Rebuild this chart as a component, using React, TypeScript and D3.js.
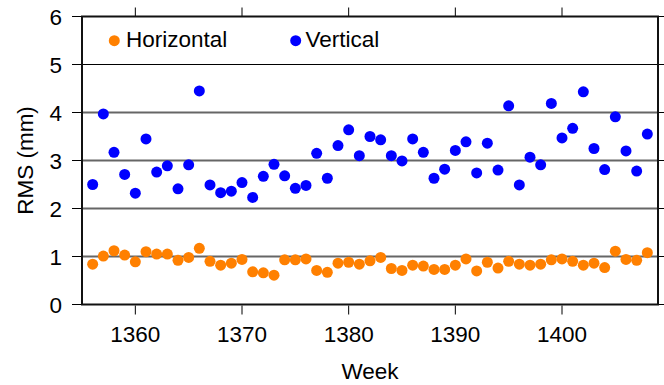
import * as d3 from "d3";

const weeks = d3.range(1356, 1409);

const horizontal = [
  0.84, 1.01, 1.12, 1.03, 0.89, 1.1, 1.05, 1.05, 0.92, 0.98,
  1.17, 0.9, 0.82, 0.86, 0.94, 0.68, 0.66, 0.61, 0.93, 0.93,
  0.95, 0.71, 0.67, 0.86, 0.88, 0.84, 0.91, 0.98, 0.75, 0.71,
  0.82, 0.8, 0.73, 0.73, 0.82, 0.95, 0.7, 0.88, 0.76, 0.9,
  0.84, 0.82, 0.84, 0.93, 0.95, 0.9, 0.82, 0.86, 0.77, 1.11,
  0.94, 0.92, 1.08,
];

const vertical = [
  2.5, 3.97, 3.17, 2.71, 2.32, 3.45, 2.76, 2.89, 2.41, 2.91,
  4.45, 2.49, 2.33, 2.36, 2.54, 2.23, 2.67, 2.92, 2.68, 2.42,
  2.48, 3.15, 2.63, 3.31, 3.64, 3.1, 3.5, 3.43, 3.1, 2.99,
  3.45, 3.17, 2.63, 2.82, 3.21, 3.39, 2.74, 3.36, 2.8, 4.14,
  2.49, 3.07, 2.91, 4.19, 3.47, 3.67, 4.43, 3.25, 2.81, 3.91,
  3.2, 2.78, 3.55,
];

const xTicks = [1360, 1370, 1380, 1390, 1400];
const yTicks = [0, 1, 2, 3, 4, 5, 6];
const gridValues = [1, 2, 3, 4];

const ORANGE = "#ff8000";
const BLUE = "#0000ff";
const FONT = "Liberation Sans, Arial, Helvetica, sans-serif";
const FS = 22.5;

const W = 664;
const H = 385;
const M = { left: 82, right: 6, top: 16.5, bottom: 80.5 };

export default function App() {
  const x = d3.scaleLinear().domain([1355, 1409]).range([M.left, W - M.right]);
  const y = d3.scaleLinear().domain([0, 6]).range([H - M.bottom, M.top]);
  const x0 = x.range()[0];
  const x1 = x.range()[1];
  const yb = y(0);
  const yt = y(6);

  return (
    <svg
      width={W}
      height={H}
      fontFamily={FONT}
      style={{ position: "absolute", left: 0, top: 0 }}
    >
      <rect width={W} height={H} fill="white" />

      {/* grid */}
      {gridValues.map((v) => (
        <line key={v} x1={x0} x2={x1} y1={y(v)} y2={y(v)} stroke="#666" strokeWidth={2} />
      ))}
      {/* legend box bottom border */}
      <line x1={x0} x2={x1} y1={y(5)} y2={y(5)} stroke="#000" strokeWidth={1.2} />

      {/* ticks */}
      {yTicks.map((v) => (
        <g key={v}>
          <line x1={x0 - 10} x2={x0} y1={y(v)} y2={y(v)} stroke="#000" strokeWidth={1} />
          <line x1={x1} x2={x1 + 6} y1={y(v)} y2={y(v)} stroke="#000" strokeWidth={1} />
          <text x={62} y={y(v) + 8.3} textAnchor="end" fontSize={FS} fontFamily={FONT} fill="#000">
            {v}
          </text>
        </g>
      ))}
      {xTicks.map((v) => (
        <g key={v}>
          <line x1={x(v)} x2={x(v)} y1={yb + 1} y2={yb + 10} stroke="#000" strokeWidth={1} />
          <line x1={x(v)} x2={x(v)} y1={yt - 9} y2={yt} stroke="#000" strokeWidth={1} />
          <text x={x(v)} y={yb + 37} textAnchor="middle" fontSize={FS} fontFamily={FONT} fill="#000">
            {v}
          </text>
        </g>
      ))}

      {/* points */}
      {weeks.map((w, i) => (
        <circle key={"h" + w} cx={x(w)} cy={y(horizontal[i])} r={5.5} fill={ORANGE} />
      ))}
      {weeks.map((w, i) => (
        <circle key={"v" + w} cx={x(w)} cy={y(vertical[i])} r={5.5} fill={BLUE} />
      ))}

      {/* frame */}
      <rect
        x={x0}
        y={yt}
        width={x1 - x0}
        height={yb - yt}
        fill="none"
        stroke="#111"
        strokeWidth={2}
      />

      {/* legend */}
      <circle cx={114.3} cy={40.7} r={5.5} fill={ORANGE} />
      <text x={126} y={47.3} fontSize={FS} fontFamily={FONT} fill="#000">Horizontal</text>
      <circle cx={295.7} cy={40.7} r={5.5} fill={BLUE} />
      <text x={305.5} y={47.3} fontSize={FS} fontFamily={FONT} fill="#000">Vertical</text>

      {/* axis titles */}
      <text x={370} y={379} textAnchor="middle" fontSize={FS} fontFamily={FONT} fill="#000">
        Week
      </text>
      <text
        transform={`translate(33,${(yb + yt) / 2}) rotate(-90)`}
        textAnchor="middle"
        fontSize={FS}
        fontFamily={FONT}
        fill="#000"
      >
        RMS (mm)
      </text>
    </svg>
  );
}
